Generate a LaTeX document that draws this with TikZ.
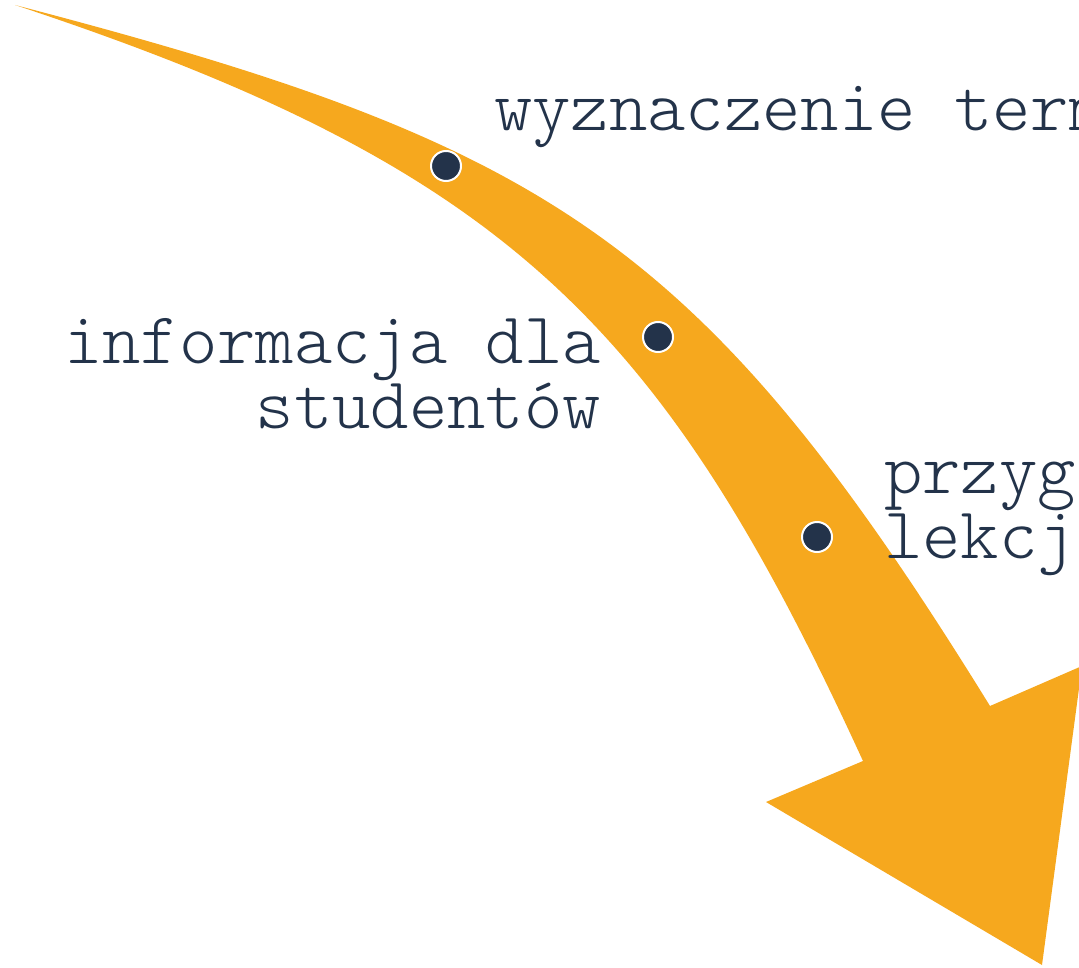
\documentclass[tikz,border=0pt]{standalone}
\usepackage{fontspec}
\usepackage{tikz}
\definecolor{arroworange}{RGB}{246,168,30}
\definecolor{darknavy}{RGB}{35,51,74}

\begin{document}
\begin{tikzpicture}[x=1pt, y=-1pt,
    stage/.style={circle, fill=darknavy, draw=white, line width=2pt, minimum size=30pt, inner sep=0pt},
    stagetext/.style={font=\ttfamily\fontseries{l}\fontsize{73}{65}\selectfont, text=darknavy, inner sep=0pt}]
    \useasboundingbox (0,0) rectangle (1079,968);
    \clip (0,0) rectangle (1079,968);

    % Arrow
    \fill[arroworange] (15,5) .. controls (547,144) and (701,238) .. (990,706)
        -- (1082,666) -- (1042,965) -- (766,802) -- (863,761)
        .. controls (663,325) and (508,168) .. cycle;

    % Stages
    \node[stage] (s1) at (446,166) {};
    \node[stage] (s2) at (658,337) {};
    \node[stage] (s3) at (817,537) {};

    % Labels
    \node[stagetext, anchor=base west] (t1) at (494,131) {wyznaczenie terminu};
    \node[stagetext, anchor=base east, align=right] (t2) at (601,428) {informacja dla\\studentów};
    \node[stagetext, anchor=base west, align=left] (t3) at (884,558) {przygotowanie\\lekcji};
\end{tikzpicture}
\end{document}
